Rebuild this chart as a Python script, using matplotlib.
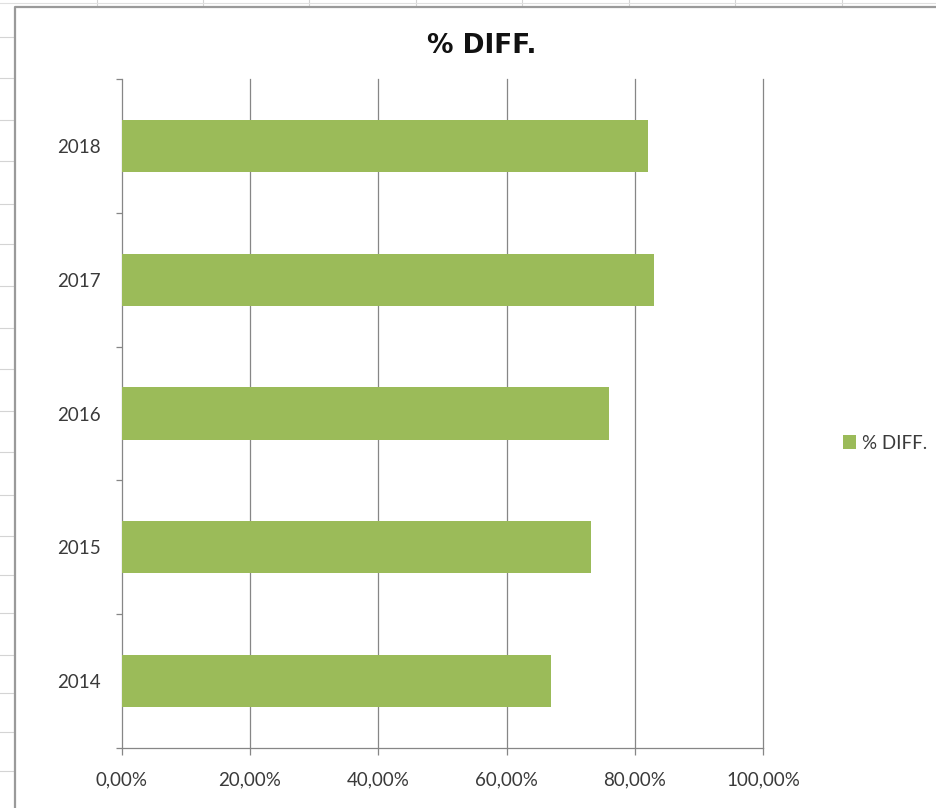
import matplotlib
matplotlib.use("Agg")
import matplotlib.pyplot as plt
from matplotlib.lines import Line2D
from matplotlib.ticker import FuncFormatter, FixedLocator

years = ["2014", "2015", "2016", "2017", "2018"]
pct_diff = [0.669, 0.731, 0.759, 0.829, 0.821]
x_ticks = [0.0, 0.2, 0.4, 0.6, 0.8, 1.0]
title = "% DIFF."
series_name = "% DIFF."

W, H = 936, 808
fig = plt.figure(figsize=(W / 100, H / 100), dpi=100)
fig.patch.set_facecolor("white")

# spreadsheet background (outside chart)
for yy in [37, 78, 120, 161, 204, 244, 286, 328, 369, 411, 452, 495, 536, 575, 613, 655, 693, 732, 771]:
    fig.add_artist(Line2D([0, 14 / W], [1 - yy / H] * 2, transform=fig.transFigure,
                          color="#d4d4d4", lw=0.8))
for xx in [97, 203, 309, 416, 522, 629, 735, 842]:
    fig.add_artist(Line2D([xx / W] * 2, [1, 1 - 6 / H], transform=fig.transFigure,
                          color="#d4d4d4", lw=0.8))
fig.add_artist(Line2D([0, 1], [1 - 3 / H] * 2, transform=fig.transFigure, color="#e0e0e0", lw=0.8))
# chart area border
fig.add_artist(Line2D([15 / W, 15 / W, 1], [0, 1 - 7 / H, 1 - 7 / H], transform=fig.transFigure,
                      color="#9a9a9a", lw=1.6))

ax = fig.add_axes([121.7 / W, 1 - 748 / H, 641.6 / W, 669 / H])
ypos = list(range(len(years)))
bars = ax.barh(ypos, pct_diff, height=0.39, color="#9BBB59", label=series_name, zorder=3)

ax.set_xlim(0, 1.0)
ax.set_ylim(-0.5, len(years) - 0.5)
ax.xaxis.set_major_locator(FixedLocator(x_ticks))
ax.xaxis.set_major_formatter(FuncFormatter(lambda v, p: f"{v*100:.2f}%".replace(".", ",")))
ax.set_yticks(ypos)
ax.set_yticklabels(years)
ax.set_yticks([i - 0.5 for i in range(len(years) + 1)], minor=True)

grid_c = "#868686"
for v in x_ticks[1:]:
    ax.axvline(v, color=grid_c, lw=0.9, zorder=1, clip_on=False)

for s in ["top", "right"]:
    ax.spines[s].set_visible(False)
for s in ["left", "bottom"]:
    ax.spines[s].set_color(grid_c)
    ax.spines[s].set_linewidth(0.9)

lab_c = "#3a3a3a"
ax.tick_params(axis="x", direction="out", length=5, width=0.9, color=grid_c, pad=12,
               labelsize=13.5, labelcolor=lab_c)
ax.tick_params(axis="y", which="major", length=0, pad=15, labelsize=13.5, labelcolor=lab_c)
ax.tick_params(axis="y", which="minor", direction="out", length=4.3, width=0.9, color=grid_c)
for t in ax.get_xticklabels() + ax.get_yticklabels():
    t.set_fontfamily(["Lato", "DejaVu Sans"])

fig.text(481.5 / W, 1 - 46 / H, title, ha="center", va="center", fontsize=19,
         fontweight="bold", family=["DejaVu Sans"], color="#111111")

leg = fig.legend(handles=[bars], labels=[series_name], loc="center left",
                 bbox_to_anchor=(843 / W, 1 - 443 / H), frameon=False,
                 handlelength=0.7, handleheight=0.7, handletextpad=0.3,
                 borderpad=0, borderaxespad=0,
                 prop={"family": ["Lato", "DejaVu Sans"], "size": 13.5})
for t in leg.get_texts():
    t.set_color(lab_c)

fig.savefig("out.png", dpi=100)
